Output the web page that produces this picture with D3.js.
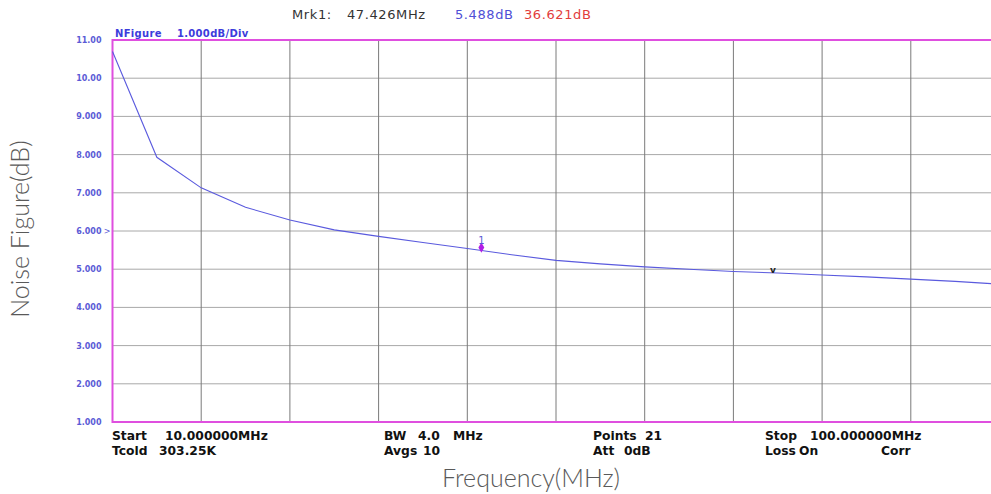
<!DOCTYPE html>
<html>
<head>
<meta charset="utf-8">
<script src="https://cdn.jsdelivr.net/npm/d3@7"></script>
<style>
  html, body { margin: 0; padding: 0; background: #fff; }
  svg { display: block; }
</style>
</head>
<body>
<div id="chart"></div>
<script>
// Trace data: 21 points, 10 to 100 MHz
var freqMHz = [10, 14.5, 19, 23.5, 28, 32.5, 37, 41.5, 46, 50.5, 55,
               59.5, 64, 68.5, 73, 77.5, 82, 86.5, 91, 95.5, 100];
var noiseFigureDb = [10.70, 7.93, 7.13, 6.62, 6.29, 6.03, 5.86, 5.70, 5.54, 5.38, 5.23,
                     5.14, 5.06, 5.00, 4.94, 4.90, 4.85, 4.80, 4.74, 4.68, 4.61];

// y ticks (1 dB / div) and their screen labels
var yTickValues = [1, 2, 3, 4, 5, 6, 7, 8, 9, 10, 11];
var yTickLabels = ["1.000", "2.000", "3.000", "4.000", "5.000", "6.000",
                   "7.000", "8.000", "9.000", "10.00", "11.00"];

// vertical graticule, 9 MHz / div
var xGridValues = [19, 28, 37, 46, 55, 64, 73, 82, 91];

// markers
var marker1 = { freq: 47.426, value: 5.488, label: "1" };
var marker2 = { freq: 77.0, value: 4.93 };
var refLevel = 6;

var width = 991,
    height = 494,
    plotLeft = 112.5,
    plotRight = 999.5,
    plotTop = 40,
    plotBottom = 422;

var svg = d3.select("#chart")
    .append("svg")
    .attr("width", width)
    .attr("height", height);

var x = d3.scaleLinear().domain([10, 100]).range([plotLeft, plotRight]);
var y = d3.scaleLinear().domain([1, 11]).range([plotBottom, plotTop]);

// horizontal grid
svg.append("g")
    .selectAll("line")
    .data(yTickValues.slice(1, -1))
    .enter()
    .append("line")
    .attr("x1", plotLeft)
    .attr("x2", width)
    .attr("y1", d => y(d))
    .attr("y2", d => y(d))
    .style("stroke", "#a8a8a8")
    .style("stroke-width", 1);

// vertical grid
svg.append("g")
    .selectAll("line")
    .data(xGridValues)
    .enter()
    .append("line")
    .attr("x1", d => x(d))
    .attr("x2", d => x(d))
    .attr("y1", plotTop)
    .attr("y2", plotBottom)
    .style("stroke", "#7a7a7a")
    .style("stroke-width", 1);

// magenta frame (left, top, bottom; right side is cut off)
svg.append("path")
    .attr("d", "M" + width + "," + plotTop + "H" + plotLeft + "V" + plotBottom + "H" + width)
    .style("fill", "none")
    .style("stroke", "#df4fdf")
    .style("stroke-width", 2);

// y tick labels
var yAxis = d3.axisLeft(y)
    .tickValues(yTickValues)
    .tickSize(0)
    .tickPadding(11)
    .tickFormat((d, i) => yTickLabels[i]);

var yAxisG = svg.append("g")
    .attr("transform", "translate(" + plotLeft + ",0)")
    .call(yAxis);
yAxisG.select(".domain").remove();
yAxisG.selectAll("text")
    .style("font-family", "DejaVu Sans, sans-serif")
    .style("font-size", "8px")
    .style("font-weight", "bold")
    .style("fill", "#5b5bd6");

// reference level indicator
svg.append("text")
    .attr("x", plotLeft - 2)
    .attr("y", y(refLevel) + 3)
    .attr("text-anchor", "end")
    .style("font-family", "DejaVu Sans, sans-serif")
    .style("font-size", "8px")
    .style("fill", "#5b5bd6")
    .text(">");

// the trace
var line = d3.line()
    .x((d, i) => x(freqMHz[i]))
    .y(d => y(d));

svg.append("path")
    .datum(noiseFigureDb)
    .attr("d", line)
    .style("fill", "none")
    .style("stroke", "#5a5ade")
    .style("stroke-width", 1.1);

// marker 1
var m1x = x(marker1.freq), m1y = y(marker1.value) - 3;
svg.append("path")
    .attr("d", d3.symbol().type(d3.symbolDiamond).size(30))
    .attr("transform", "translate(" + m1x + "," + m1y + ")")
    .style("fill", "#b01ee6");
svg.append("text")
    .attr("x", m1x)
    .attr("y", m1y - 4)
    .attr("text-anchor", "middle")
    .style("font-family", "DejaVu Sans, sans-serif")
    .style("font-size", "10px")
    .style("fill", "#5b5bd6")
    .text(marker1.label);

// second marker (small black chevron)
svg.append("text")
    .attr("x", x(marker2.freq))
    .attr("y", y(marker2.value) + 1)
    .attr("text-anchor", "middle")
    .style("font-family", "DejaVu Sans, sans-serif")
    .style("font-size", "9px")
    .style("font-weight", "bold")
    .style("fill", "#222")
    .text("v");

// screen header
[{ x: 115, text: "NFigure" }, { x: 177, text: "1.000dB/Div" }].forEach(function (h) {
    svg.append("text")
        .attr("x", h.x)
        .attr("y", 37)
        .style("font-family", "DejaVu Sans, sans-serif")
        .style("font-size", "10px")
        .style("font-weight", "bold")
        .style("letter-spacing", "0.3px")
        .style("fill", "#3c3cdc")
        .text(h.text);
});

var markerHeader = [
    { x: 292, text: "Mrk1:", color: "#333" },
    { x: 347, text: marker1.freq.toFixed(3) + "MHz", color: "#333" },
    { x: 455, text: marker1.value.toFixed(3) + "dB", color: "#4f4fd6" },
    { x: 524, text: "36.621dB", color: "#e23c3c" }
];
svg.selectAll(".mrk")
    .data(markerHeader)
    .enter()
    .append("text")
    .attr("class", "mrk")
    .attr("x", d => d.x)
    .attr("y", 19)
    .style("font-family", "DejaVu Sans, sans-serif")
    .style("font-size", "13px")
    .style("letter-spacing", "0.6px")
    .style("fill", d => d.color)
    .text(d => d.text);

// settings shown under the graticule
var infoRow1 = [
    { x: 112, text: "Start" }, { x: 165, text: "10.000000MHz" },
    { x: 384, text: "BW" }, { x: 418, text: "4.0" }, { x: 453, text: "MHz" },
    { x: 593, text: "Points" }, { x: 645, text: "21" },
    { x: 765, text: "Stop" }, { x: 810, text: "100.000000MHz" }
];
var infoRow2 = [
    { x: 112, text: "Tcold" }, { x: 159, text: "303.25K" },
    { x: 384, text: "Avgs" }, { x: 423, text: "10" },
    { x: 593, text: "Att" }, { x: 624, text: "0dB" },
    { x: 765, text: "Loss" }, { x: 799, text: "On" },
    { x: 881, text: "Corr" }
];
[[infoRow1, 440], [infoRow2, 455]].forEach(function (row) {
    svg.append("g")
        .selectAll("text")
        .data(row[0])
        .enter()
        .append("text")
        .attr("x", d => d.x)
        .attr("y", row[1])
        .style("font-family", "DejaVu Sans, sans-serif")
        .style("font-size", "12.3px")
        .style("font-weight", "bold")
        .style("fill", "#111")
        .text(d => d.text);
});

// axis titles
svg.append("text")
    .attr("x", 531)
    .attr("y", 487)
    .attr("text-anchor", "middle")
    .style("font-family", "Lato, Open Sans, sans-serif")
    .style("font-weight", 300)
    .style("font-size", "25px")
    .style("fill", "#595959")
    .text("Frequency(MHz)");

svg.append("text")
    .attr("transform", "translate(29,229) rotate(-90)")
    .attr("text-anchor", "middle")
    .style("font-family", "Lato, Open Sans, sans-serif")
    .style("font-weight", 300)
    .style("font-size", "25px")
    .style("fill", "#595959")
    .text("Noise Figure(dB)");
</script>
</body>
</html>
